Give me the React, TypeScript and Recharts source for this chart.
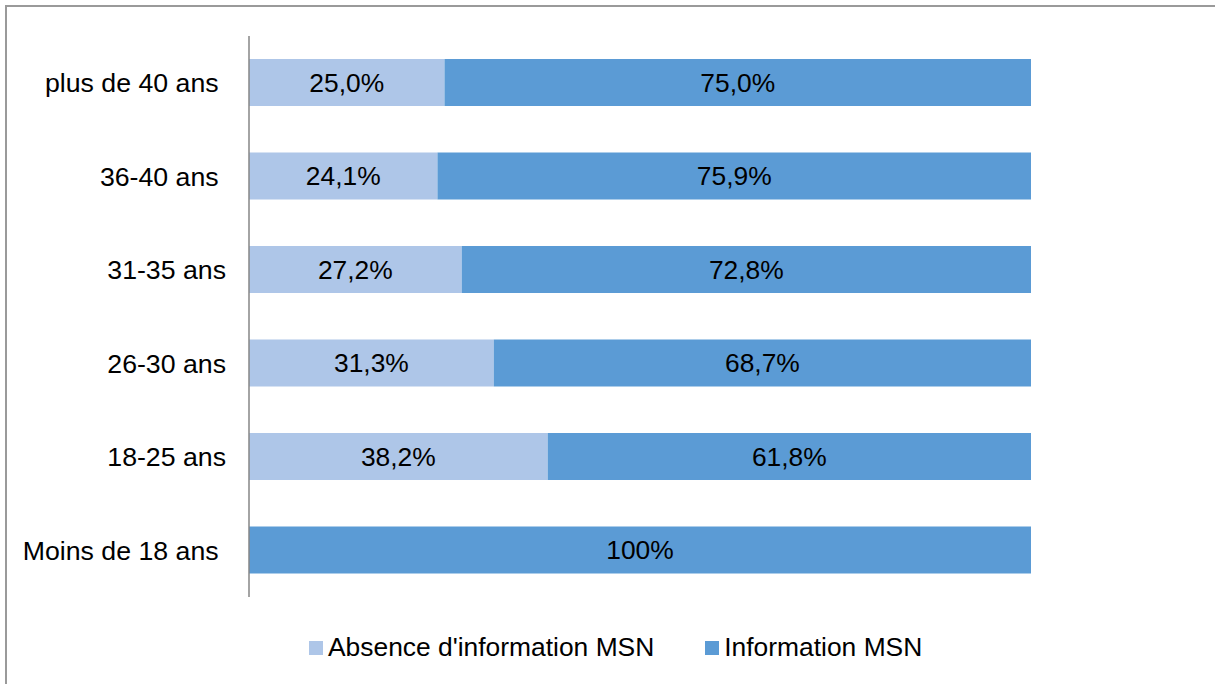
import { BarChart, Bar, XAxis, YAxis, Legend, LabelList } from 'recharts'

const ageGroups = [
  'plus de 40 ans\u00A0',
  '36-40 ans\u00A0',
  '31-35 ans',
  '26-30 ans',
  '18-25 ans',
  'Moins de 18 ans\u00A0',
]
const absenceInfo = [25.0, 24.1, 27.2, 31.3, 38.2, 0]
const withInfo = [75.0, 75.9, 72.8, 68.7, 61.8, 100]

const seriesNames = ["Absence d'information MSN", 'Information MSN']
const LIGHT = '#aec6e8'
const DARK = '#5b9bd5'
const FONT = '"Liberation Sans", Arial, sans-serif'

const data = ageGroups.map((age, i) => ({
  age,
  absence: absenceInfo[i],
  info: withInfo[i],
}))

const fmt = (v: any) => {
  const n = Number(v)
  if (!n) return ''
  if (n === 100) return '100%'
  return n.toFixed(1).replace('.', ',') + '%'
}

function LegendBox() {
  const items = [
    { name: seriesNames[0], color: LIGHT },
    { name: seriesNames[1], color: DARK },
  ]
  return (
    <div style={{ display: 'flex', alignItems: 'center', fontFamily: FONT, fontSize: 26.4, color: '#000' }}>
      {items.map((it, i) => (
        <div key={it.name} style={{ display: 'flex', alignItems: 'center', marginRight: i === 0 ? 51 : 0 }}>
          <span style={{ display: 'inline-block', width: 14, height: 14, background: it.color, marginRight: 5 }} />
          <span style={{ whiteSpace: 'nowrap' }}>{it.name}</span>
        </div>
      ))}
    </div>
  )
}

export default function App() {
  return (
    <div style={{ position: 'absolute', left: 0, top: 0, width: 1215, height: 684, background: '#fff', overflow: 'hidden' }}>
      <div style={{ position: 'absolute', left: 5, top: 5, width: 1300, height: 800, borderTop: '2px solid #9a9a9a', borderLeft: '2px solid #9a9a9a' }} />
      <div style={{ position: 'absolute', left: 0, top: 0 }}>
        <BarChart
          width={1215}
          height={684}
          data={data}
          layout="vertical"
          barSize={47}
          margin={{ top: 36, right: 184, bottom: 87, left: 0 }}
        >
          <XAxis type="number" domain={[0, 100]} hide />
          <YAxis
            type="category"
            dataKey="age"
            width={249}
            tickSize={0}
            tickMargin={23}
            tickLine={false}
            axisLine={{ stroke: '#868686', strokeWidth: 1.5 }}
            tick={{ fontSize: 26.7, fill: '#000', fontFamily: FONT }}
            interval={0}
          />
          <Legend
            layout="horizontal"
            verticalAlign="middle"
            content={() => <LegendBox />}
            wrapperStyle={{ left: 309, top: 632, width: 'auto', height: 34 }}
          />
          <Bar dataKey="absence" stackId="a" fill={LIGHT} name={seriesNames[0]} isAnimationActive={false}>
            <LabelList dataKey="absence" position="center" formatter={fmt} fill="#000" fontSize={26.4} fontFamily={FONT} />
          </Bar>
          <Bar dataKey="info" stackId="a" fill={DARK} name={seriesNames[1]} isAnimationActive={false}>
            <LabelList dataKey="info" position="center" formatter={fmt} fill="#000" fontSize={26.4} fontFamily={FONT} />
          </Bar>
        </BarChart>
      </div>
    </div>
  )
}
